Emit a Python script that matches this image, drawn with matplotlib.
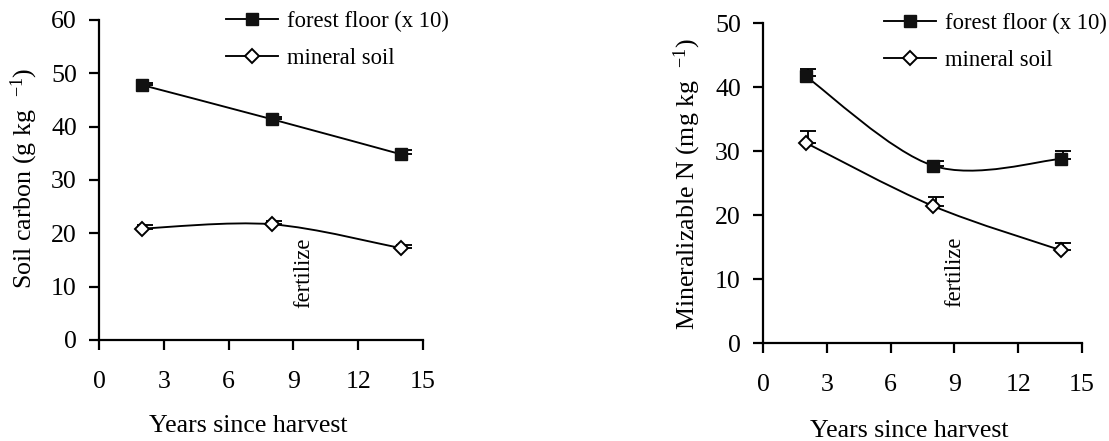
import numpy as np
import matplotlib
matplotlib.use("Agg")
import matplotlib.pyplot as plt
from matplotlib.path import Path
from matplotlib.patches import PathPatch
from matplotlib.lines import Line2D
from matplotlib.transforms import ScaledTranslation

plt.rcParams['font.family'] = ['Liberation Serif', 'DejaVu Serif']
plt.rcParams['mathtext.fontset'] = 'custom'
plt.rcParams['mathtext.rm'] = 'Liberation Serif'

# ---- data ----
years = [2, 8, 14]

carbon_forest = [47.8, 41.4, 34.8]
carbon_forest_err = [0.3, 0.4, 0.9]
carbon_mineral = [20.9, 21.7, 17.2]
carbon_mineral_err = [0.6, 0.6, 0.7]

nmin_forest = [41.7, 27.7, 28.75]
nmin_forest_err = [1.1, 0.7, 1.25]
nmin_mineral = [31.3, 21.4, 14.5]
nmin_mineral_err = [1.8, 1.4, 1.2]

series_labels = ["forest floor (x 10)", "mineral soil"]
xticks = [0, 3, 6, 9, 12, 15]
xlabel = "Years since harvest"
ylabel_left = r"Soil carbon (g kg  $\mathregular{^{-1}}$)"
ylabel_right = r"Mineralizable N (mg kg  $\mathregular{^{-1}}$)"
annot = "fertilize"

fig = plt.figure(figsize=(11.09, 4.41), dpi=100)

FS = 18.6
LFS = 16.3
LW = 1.35


def smooth_path(x, y):
    """Excel-like smoothed line (Catmull-Rom Bezier) through the points."""
    pts = np.column_stack([x, y]).astype(float)
    n = len(pts)
    verts = [pts[0]]
    codes = [Path.MOVETO]
    for i in range(n - 1):
        p0 = pts[i - 1] if i > 0 else pts[i]
        p1 = pts[i]
        p2 = pts[i + 1]
        p3 = pts[i + 2] if i + 2 < n else pts[i + 1]
        c1 = p1 + (p2 - p0) / 6.0
        c2 = p2 - (p3 - p1) / 6.0
        verts += [c1, c2, p2]
        codes += [Path.CURVE4] * 3
    return Path(verts, codes)


def draw_panel(ax, f, f_err, m, m_err, ymax, ylabel, fert_xy, leg_anchor,
               ylab_coords, xlab_coords):
    off = ScaledTranslation(2.5 / 100, 0, fig.dpi_scale_trans)
    for vals, errs in ((f, f_err), (m, m_err)):
        cont = ax.errorbar(years, vals, yerr=[np.zeros(len(errs)), errs],
                           fmt='none', ecolor='black', elinewidth=LW,
                           capsize=6, capthick=LW, zorder=2)
        for art in list(cont.lines[1]) + list(cont.lines[2]):
            art.set_transform(ax.transData + off)
        ax.add_patch(PathPatch(smooth_path(years, vals), fill=False,
                               edgecolor='black', lw=LW, zorder=3))
    ax.plot(years, f, ls='none', marker='s', ms=8.3, mfc='#111111',
            mec='#111111', zorder=4)
    ax.plot(years, m, ls='none', marker='D', ms=7.5, mfc='white',
            mec='black', mew=1.4, zorder=4)

    ax.set_xlim(0, 15)
    ax.set_ylim(0, ymax)
    ax.set_xticks(xticks)
    ax.set_yticks(np.arange(0, ymax + 1, 10))
    for s in ('top', 'right'):
        ax.spines[s].set_visible(False)
    for s in ('left', 'bottom'):
        ax.spines[s].set_linewidth(1.6)
    ax.tick_params(axis='both', direction='out', length=7, width=1.6,
                   labelsize=FS)
    ax.tick_params(axis='x', pad=15)
    ax.tick_params(axis='y', pad=9)
    ax.set_xlabel(xlabel, fontsize=FS)
    ax.set_ylabel(ylabel, fontsize=FS)
    ax.yaxis.set_label_coords(*ylab_coords)
    ax.xaxis.set_label_coords(*xlab_coords)

    ax.text(fert_xy[0], fert_xy[1], annot, rotation=90, fontsize=LFS,
            ha='center', va='bottom')

    handles = [
        Line2D([], [], color='black', lw=LW, marker='s', ms=8.3,
               mfc='#111111', mec='#111111'),
        Line2D([], [], color='black', lw=LW, marker='D', ms=7.5,
               mfc='white', mec='black', mew=1.4),
    ]
    ax.legend(handles, series_labels, loc='upper left',
              bbox_to_anchor=leg_anchor, frameon=False, fontsize=LFS,
              handlelength=2.3, handletextpad=0.4, labelspacing=0.72,
              borderpad=0, borderaxespad=0)


ax1 = fig.add_axes([99 / 1109, 1 - 340 / 441, 324 / 1109, 320 / 441])
ax2 = fig.add_axes([763 / 1109, 1 - 343 / 441, 319 / 1109, 320 / 441])

draw_panel(ax1, carbon_forest, carbon_forest_err, carbon_mineral,
           carbon_mineral_err, 60, ylabel_left, (9.5, 6.0), (0.392, 1.03),
           (-0.182, 0.506), (0.46, -0.235))
draw_panel(ax2, nmin_forest, nmin_forest_err, nmin_mineral,
           nmin_mineral_err, 50, ylabel_right, (9.0, 5.6), (0.379, 1.033),
           (-0.188, 0.497), (0.458, -0.24))

fig.savefig("out.png", dpi=100)
